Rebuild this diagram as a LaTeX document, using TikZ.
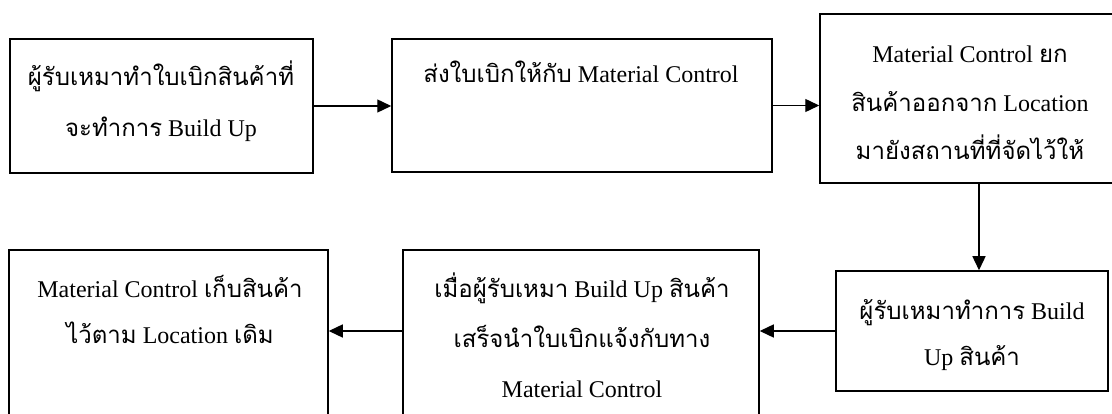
\documentclass[tikz,border=0pt]{standalone}
\usepackage{fontspec}
\setmainfont{Liberation Serif}
\newfontfamily\thaifont[Script=Thai]{Loma}
\newcommand\tht[1]{{\thaifont #1}}
\usetikzlibrary{arrows.meta}
\tikzset{
  box/.style={draw, line width=1.5pt, rectangle, inner sep=0pt},
  lbl/.style={align=center, inner sep=0pt, anchor=base},
  arr/.style={line width=1.4pt, -{Triangle[length=14pt,width=13pt]}}
}
\begin{document}
\begin{tikzpicture}[x=1pt,y=-1pt]
\useasboundingbox (0,0) rectangle (1112,414);
\clip (0,0) rectangle (1112,414);
% boxes
\node[box, minimum width=303pt, minimum height=134pt] (b1) at (161.5,106) {};
\node[box, minimum width=380pt, minimum height=133pt] (b2) at (582,105.5) {};
\node[box, minimum width=300pt, minimum height=169pt] (b3) at (970,98.5) {};
\node[box, minimum width=272pt, minimum height=120pt] (b4) at (972,331) {};
\node[box, minimum width=356pt, minimum height=200pt] (b5) at (581,350) {};
\node[box, minimum width=319pt, minimum height=200pt] (b6) at (168.5,350) {};
% texts (anchor base = baseline of the last line)
\node[lbl, font=\fontsize{24}{51}\selectfont] (t1) at (161,137)
  {\tht{ผู้รับเหมาทำใบเบิกสินค้าที่}\\\tht{จะทำการ} Build Up};
\node[lbl, font=\fontsize{24}{50}\selectfont] (t2) at (581,83)
  {\tht{ส่งใบเบิกให้กับ} Material Control};
\node[lbl, font=\fontsize{24}{48.5}\selectfont] (t3) at (970,160)
  {Material Control \tht{ยก}\\\tht{สินค้าออกจาก} Location\\\tht{มายังสถานที่ที่จัดไว้ให้}};
\node[lbl, font=\fontsize{24}{46}\selectfont] (t4) at (972,365)
  {\tht{ผู้รับเหมาทำการ} Build\\Up \tht{สินค้า}};
\node[lbl, font=\fontsize{24}{50}\selectfont] (t5) at (582,397)
  {\tht{เมื่อผู้รับเหมา} Build Up \tht{สินค้า}\\\tht{เสร็จนำใบเบิกแจ้งกับทาง}\\Material Control};
\node[lbl, font=\fontsize{24}{46}\selectfont] (t6) at (170,343)
  {Material Control \tht{เก็บสินค้า}\\\tht{ไว้ตาม} Location \tht{เดิม}};
% connectors
\coordinate (va) at (979,0);
\draw[arr] (b1.east) -- (b1.east -| b2.west);
\draw[arr] (b2.east) -- (b2.east -| b3.west);
\draw[arr] (b3.south -| va) -- (b4.north -| va);
\draw[arr] (b4.west) -- (b4.west -| b5.east);
\draw[arr] (b4.west -| b5.west) -- (b4.west -| b6.east);
\end{tikzpicture}
\end{document}
